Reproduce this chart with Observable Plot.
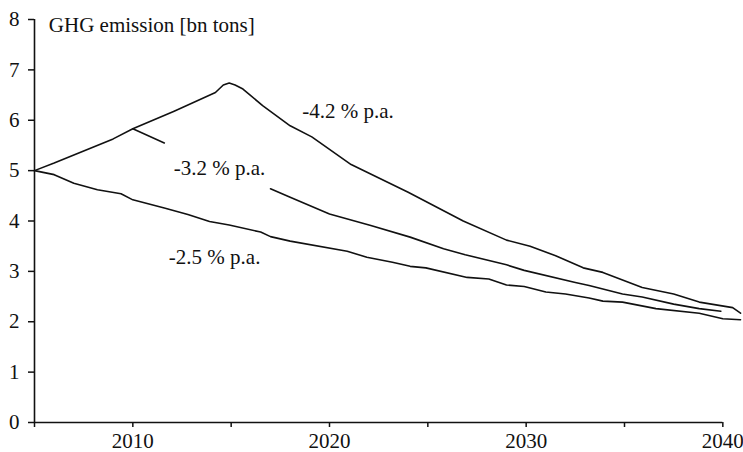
<!DOCTYPE html>
<html>
<head>
<meta charset="utf-8">
<script src="https://cdn.jsdelivr.net/npm/d3@7"></script>
<script src="https://cdn.jsdelivr.net/npm/@observablehq/plot@0.6"></script>
<style>
  html, body { margin: 0; padding: 0; background: #fff; }
</style>
</head>
<body>
<div id="chart"></div>
<script>
// -4.2 % p.a. path
const highYears  = [2005, 2006, 2009.0, 2010.0, 2012.1, 2014.2, 2014.6, 2014.9, 2015.2, 2015.6, 2016.6, 2018.0, 2019.1, 2021.1, 2024.0, 2026.8, 2029.0, 2030.2, 2031.5, 2032.9, 2033.9, 2035.9, 2037.5, 2038.8, 2040.5, 2040.9];
const highValues = [5.00, 5.15, 5.63, 5.83, 6.18, 6.55, 6.70, 6.74, 6.70, 6.62, 6.29, 5.89, 5.67, 5.12, 4.57, 4.00, 3.62, 3.50, 3.31, 3.07, 2.98, 2.68, 2.55, 2.39, 2.28, 2.17];
// -3.2 % p.a. path (gap where the label sits)
const midYears   = [2010.0, 2011.6, 2014.0, 2017.0, 2018.0, 2020.0, 2022.1, 2024.1, 2025.8, 2026.9, 2029.0, 2029.9, 2032.5, 2033.2, 2034.9, 2035.9, 2037.5, 2038.8, 2039.9];
const midValues  = [5.83, 5.55, null, 4.64, 4.47, 4.14, 3.91, 3.68, 3.45, 3.33, 3.13, 3.02, 2.78, 2.72, 2.55, 2.49, 2.35, 2.26, 2.21];
// -2.5 % p.a. path
const lowYears   = [2005, 2006.0, 2007.0, 2008.2, 2009.4, 2010.0, 2011.6, 2012.8, 2013.9, 2014.9, 2016.5, 2017.0, 2018.0, 2020.9, 2021.9, 2023.2, 2024.1, 2024.9, 2027.0, 2028.1, 2029.0, 2029.9, 2031.0, 2032.0, 2033.2, 2033.9, 2034.9, 2036.6, 2038.8, 2040.0, 2040.9];
const lowValues  = [5.00, 4.92, 4.75, 4.62, 4.54, 4.42, 4.26, 4.13, 3.99, 3.92, 3.78, 3.69, 3.60, 3.40, 3.28, 3.18, 3.10, 3.07, 2.88, 2.85, 2.73, 2.70, 2.59, 2.55, 2.47, 2.41, 2.39, 2.26, 2.17, 2.06, 2.04];

const yTicks = [0, 1, 2, 3, 4, 5, 6, 7, 8];
const xTicks = [2005, 2010, 2015, 2020, 2025, 2030, 2035, 2040];
const xLabelled = [2010, 2020, 2030, 2040];

const labelTexts = ["GHG emission [bn tons]", "-4.2 % p.a.", "-3.2 % p.a.", "-2.5 % p.a."];
const labelX = [2005.73, 2018.61, 2012.08, 2011.83];
const labelY = [7.76, 6.05, 4.92, 3.15];

const series = [
  {name: "high", years: highYears, values: highValues},
  {name: "mid", years: midYears, values: midValues},
  {name: "low", years: lowYears, values: lowValues}
];
const rows = series.flatMap(s => s.years.map((yr, i) => ({series: s.name, year: yr, value: s.values[i]})));
const labels = labelTexts.map((t, i) => ({text: t, x: labelX[i], y: labelY[i]}));

const ink = "#111";

const chart = Plot.plot({
  width: 743,
  height: 452,
  marginLeft: 34,
  marginRight: 1,
  marginTop: 19,
  marginBottom: 30,
  style: {fontFamily: "'Liberation Serif', 'Times New Roman', serif", fontSize: "21px", color: ink, background: "#fff"},
  x: {domain: [2005, 2041], axis: null},
  y: {domain: [0, 8], axis: null},
  marks: [
    Plot.axisY({ticks: yTicks, tickSize: 6, tickPadding: 9, tickFormat: d => String(d), stroke: ink, strokeWidth: 1.5, fontSize: 21, label: null}),
    Plot.axisX({ticks: xTicks, tickSize: 5, tickPadding: 6, tickFormat: d => xLabelled.includes(d) ? String(d) : "", stroke: ink, strokeWidth: 1.5, fontSize: 21, label: null}),
    Plot.ruleX([xTicks[0]], {y1: yTicks[0], y2: yTicks[yTicks.length - 1], stroke: ink, strokeWidth: 1.6}),
    Plot.ruleY([yTicks[0]], {x1: xTicks[0], x2: xTicks[xTicks.length - 1], stroke: ink, strokeWidth: 1.6}),
    Plot.line(rows, {x: "year", y: "value", z: "series", stroke: ink, strokeWidth: 1.6}),
    Plot.text(labels, {x: "x", y: "y", text: "text", textAnchor: "start", lineAnchor: "bottom", fontSize: 21, fill: ink})
  ]
});
document.getElementById("chart").appendChild(chart);
</script>
</body>
</html>
